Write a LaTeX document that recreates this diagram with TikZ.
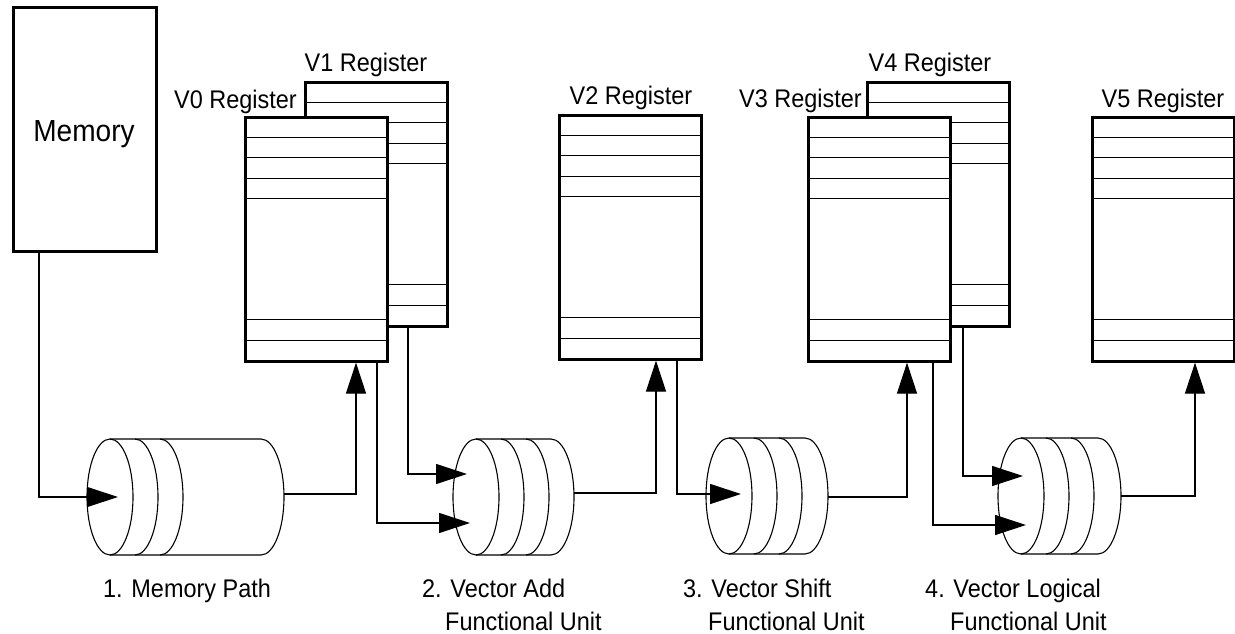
\documentclass[tikz,border=0pt]{standalone}
\usepackage{fontspec}
\setmainfont{Liberation Sans}[FakeStretch=0.92]
\usetikzlibrary{arrows.meta}
\newcommand\drawcyl[5]{% name, front centre x, centre y, end centre x, out y
  \coordinate (#1) at (#2,#3);
  \draw[cyl] (#2,#3) ellipse[x radius=23, y radius=58];
  \draw[cyl] (#2+25,#3-58) arc[start angle=-90, end angle=90, x radius=23, y radius=58];
  \draw[cyl] (#2+50,#3-58) arc[start angle=-90, end angle=90, x radius=23, y radius=58];
  \draw[cyl] (#2,#3-58) -- (#4,#3-58) arc[start angle=-90, end angle=90, x radius=23, y radius=58] -- (#2,#3+58);
  \coordinate (#1out) at (#4+23,#5);
}
\begin{document}
\begin{tikzpicture}[x=1pt,y=-1pt,
  lbl/.style={font=\fontsize{25.5}{33}\selectfont, inner sep=0pt},
  reg/.style={draw, line width=2.6pt, fill=white, minimum width=142pt, minimum height=244pt,
    inner sep=0pt, anchor=north west,
    path picture={\foreach \d in {20,40,61,81,202,223}{%
      \draw[line width=1.2pt] ([yshift=-\d pt]path picture bounding box.north west) -- ([yshift=-\d pt]path picture bounding box.north east);}}},
  cyl/.style={line width=1.1pt},
  arr/.style={line width=1.2pt, -{Triangle[length=31pt,width=20pt]}}
]
\useasboundingbox (0,0) rectangle (1235,634);

% memory
\node[draw, line width=2.6pt, minimum width=143pt, minimum height=244pt, inner sep=0pt, anchor=north west] (mem) at (12,6) {};
\node[font=\fontsize{30.5}{36}\selectfont, inner sep=0pt, anchor=base] (memtxt) at (84,141) {Memory};

% registers
\node[reg] (V1) at (304,81) {};
\node[reg] (V0) at (244,116) {};
\node[reg] (V2) at (558,114) {};
\node[reg] (V4) at (866,81) {};
\node[reg] (V3) at (807,116) {};
\node[reg] (V5) at (1091,116) {};

\node[lbl, anchor=base east] (V0l) at (297,108) {V0 Register};
\node[lbl, anchor=base] (V1l) at (366,72) {V1 Register};
\node[lbl, anchor=base] (V2l) at (631,105) {V2 Register};
\node[lbl, anchor=base east] (V3l) at (862,107) {V3 Register};
\node[lbl, anchor=base] (V4l) at (930,72) {V4 Register};
\node[lbl, anchor=base] (V5l) at (1163,107) {V5 Register};

% cylinders
\drawcyl{c1}{110}{497}{261}{494}
\drawcyl{c2}{476}{497}{551}{493}
\drawcyl{c3}{729}{496}{805}{497}
\drawcyl{c4}{1021}{496}{1098}{496}

\coordinate (c1in) at (118,497);
\coordinate (c2a) at (467,474);
\coordinate (c2b) at (470,523);
\coordinate (c3in) at (741,494);
\coordinate (c4a) at (1023,476);
\coordinate (c4b) at (1026,525);

% connectors
\draw[arr] ([xshift=27pt]mem.south west) |- (c1in);
\draw[arr] (c1out) -| ([xshift=112pt]V0.south west);
\draw[arr] ([xshift=104pt]V1.south west) |- (c2a);
\draw[arr] ([xshift=133pt]V0.south west) |- (c2b);
\draw[arr] (c2out) -| ([xshift=98pt]V2.south west);
\draw[arr] ([xshift=119pt]V2.south west) |- (c3in);
\draw[arr] (c3out) -| ([xshift=100pt]V3.south west);
\draw[arr] ([xshift=97pt]V4.south west) |- (c4a);
\draw[arr] ([xshift=126pt]V3.south west) |- (c4b);
\draw[arr] (c4out) -| ([xshift=104pt]V5.south west);

% unit labels
\node[lbl, anchor=base west] (l1) at (103,597) {1. Memory Path};
\node[lbl, anchor=base west, align=left] (l2) at (422,630) {2. Vector Add\\\hspace*{23pt}Functional Unit};
\node[lbl, anchor=base west, align=left] (l3) at (683,630) {3. Vector Shift\\\hspace*{25pt}Functional Unit};
\node[lbl, anchor=base west, align=left] (l4) at (925,630) {4. Vector Logical\\\hspace*{25pt}Functional Unit};
\end{tikzpicture}
\end{document}
